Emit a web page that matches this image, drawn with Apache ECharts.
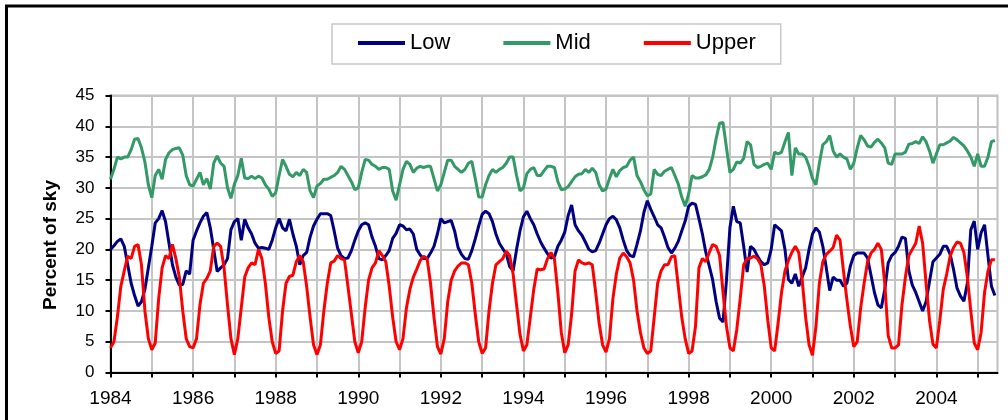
<!DOCTYPE html>
<html><head><meta charset="utf-8">
<script src="https://cdn.jsdelivr.net/npm/echarts@6/dist/echarts.min.js"></script>
<style>html,body{margin:0;padding:0;background:#fff}#c{width:1008px;height:420px}</style>
</head><body><div id="c"></div>
<script>
// Monthly values starting January 1984
const startYear = 1984;
const seriesNames = ['Low', 'Mid', 'Upper'];
const xTickLabels = [1984, 1986, 1988, 1990, 1992, 1994, 1996, 1998, 2000, 2002, 2004];
const xTickYears = [1984,1985,1986,1987,1988,1989,1990,1991,1992,1993,1994,1995,1996,1997,1998,1999,2000,2001,2002,2003,2004,2005];

const low = [
 20, 20.6, 21.3, 21.7, 20.5, 17.5, 14.5, 12.5, 10.8, 11.5, 13.5, 17,
 20.5, 24.3, 25, 26.3, 24.5, 21, 17.5, 15.5, 14.2, 14.3, 16.5, 16,
 21.5, 23, 24.3, 25.4, 26, 23.5, 20, 16.4, 17, 17.5, 18.5, 23.2,
 24.5, 25, 21.5, 24.9, 23.5, 22.5, 21, 20.2, 20.3, 20.2, 20, 21.5,
 23.5, 25, 23.5, 23, 24.9, 22.5, 20.5, 17.5, 19, 19.5, 22, 23.8,
 24.9, 25.8, 25.8, 25.8, 25.5, 23, 20.2, 19, 18.5, 18.6, 19.8, 21.5,
 23, 24, 24.3, 24, 22, 20.5, 18.5, 18.3, 19, 19.8, 21.8, 22.6,
 24, 23.8, 23.2, 23.3, 22.5, 20, 19.1, 18.5, 18.5, 19.4, 20.5, 22.5,
 25, 24.3, 24.5, 24.7, 23, 20.3, 19.2, 18.5, 18.4, 19.8, 21.7, 23.8,
 25.7, 26.2, 25.8, 24.5, 22.5, 21, 20.1, 19.3, 17.2, 16.5, 20, 23,
 25.3, 26.2, 25, 24, 22.5, 21.2, 20.2, 19.3, 18.6, 18.8, 20.5, 21.5,
 22.8, 25.5, 27.2, 24, 23, 22.3, 21.2, 20, 19.6, 19.8, 21, 22.5,
 24, 25, 25.4, 24.8, 23.5, 21.5, 19.8, 19, 18.8, 20.8, 23, 26,
 27.9, 26.5, 25.3, 24, 23.5, 22, 20.3, 19.4, 20.2, 21.3, 23, 24.6,
 27, 27.5, 27.3, 25, 22.5, 19.5, 17.3, 15, 11.5, 8.8, 8.2, 15,
 23.5, 27, 24.5, 24.3, 20.5, 16.3, 20.5, 20, 18.9, 18, 17.5, 17.8,
 20, 24, 23.5, 23, 20, 15.1, 14.5, 16, 14, 15.5, 17, 20,
 22.5, 23.5, 22.8, 20.5, 17, 13.3, 15.5, 15, 15, 14, 14.5, 17.3,
 19, 19.4, 19.4, 19.4, 18.6, 15.8, 13, 11, 10.5, 13.5, 17.8, 19,
 19.5, 20.5, 22, 21.8, 16.5, 14.2, 13, 11.5, 10, 11.5, 14.8, 18,
 18.6, 19.2, 20.5, 20.5, 19.2, 16.7, 13.7, 12.4, 11.6, 14.5, 23.2, 24.6,
 20, 22.7, 24, 18.9, 14, 12.5
];

const mid = [
 31.4, 33, 35, 34.7, 35, 35, 36.2, 37.9, 38, 36.5, 34.2, 30.5,
 28.4, 32, 33, 31.4, 34.6, 35.7, 36.2, 36.4, 36.5, 35.3, 32, 30.5,
 30.3, 31.4, 32.5, 30.5, 31.5, 29.8, 34, 35.2, 34, 33.5, 30, 28.3,
 30.6, 32, 34.8, 31.6, 31.5, 31.9, 31.5, 31.9, 31.6, 30.5, 29.8, 28.6,
 29.2, 32, 34.6, 33.5, 32.2, 31.8, 32.5, 32, 33, 32.5, 29.5, 28.4,
 30.3, 30.7, 31.4, 31.4, 31.7, 32, 32.5, 33.5, 33, 32, 31, 29.7,
 30, 32.5, 34.6, 34.5, 33.8, 33.5, 33, 33.3, 33.3, 33, 29.5, 28,
 30.5, 33, 34.3, 33.8, 32.5, 33.2, 33.5, 33.3, 33.5, 33.5, 31.5, 29.5,
 30.5, 32.5, 34.5, 34.5, 33.5, 33, 32.5, 33, 34, 34.3, 31.5, 28.5,
 28.5, 30.5, 32, 33, 32.5, 33, 33.3, 34, 35, 35, 32, 29.5,
 30, 32.3, 33, 33.3, 32, 32, 32.8, 33.5, 33.5, 33.3, 31, 29.7,
 29.8, 30.2, 31, 31.8, 32.2, 32.3, 33, 32.5, 33.2, 32.5, 30.5, 29.5,
 29.8, 31.5, 33, 31.8, 32.8, 33.3, 33.5, 34.5, 35, 32, 31, 29.7,
 28.7, 29, 33, 32.2, 32, 32.7, 33, 33.3, 32, 30.6, 28.5, 27,
 29, 32, 31.6, 31.6, 31.8, 32.1, 33, 35, 38, 40.5, 40.6, 36.5,
 32.5, 33, 34.2, 34, 34.8, 37.5, 37, 33.8, 33.3, 33.5, 33.8, 34,
 33, 35.8, 35.5, 35.8, 37.5, 39, 32, 36.5, 35.5, 35.5, 35, 33.5,
 31.5, 30.5, 34, 37, 37.5, 38.5, 36, 35, 35.5, 35, 34.7, 33,
 34, 36.5, 38.5, 37.8, 36.8, 36.6, 37.4, 37.9, 37.3, 36.5, 34, 33.8,
 35.5, 35.5, 35.5, 35.8, 37.1, 37.2, 37.5, 37.2, 38.3, 37.5, 36, 34,
 35.5, 37, 37, 37.3, 37.6, 38.2, 37.8, 37.3, 36.8, 36, 35, 33.5,
 35.5, 33.5, 33.5, 35, 37.5, 37.7
];

const upper = [
 4, 5, 9, 14, 16.5, 18.9, 18.5, 20.5, 20.8, 17.5, 10, 5.5,
 3.7, 4.8, 12, 17, 19, 18.5, 20.8, 18.5, 15.5, 10, 5.5, 4.2,
 4, 5.5, 11, 14.5, 15.3, 16.5, 20.5, 21, 20.5, 17, 11, 5.5,
 2.9, 5.5, 10.5, 15.5, 17, 17.8, 17.5, 20, 18.5, 14.5, 9, 5,
 3.1, 3.5, 10, 14.5, 15.6, 15.8, 18, 19, 18, 14, 9, 4.5,
 2.9, 4.5, 10, 14.5, 17.8, 18.1, 19, 18.5, 18.3, 14, 9.5, 5,
 3.2, 5, 10.5, 15, 17, 17.8, 19.8, 19, 18, 14, 9, 5,
 3.7, 5.5, 10.5, 13.5, 15.5, 16.8, 18.2, 18.9, 18.5, 14.5, 9, 4.2,
 3, 5.5, 11.5, 15, 16.5, 17.3, 17.8, 17.8, 17.5, 14.5, 9.5, 5,
 3.1, 4, 10, 14.5, 17.5, 18, 18.5, 19.7, 19, 16, 11, 6.2,
 3.5, 4.5, 9, 13.5, 16.8, 16.7, 16.8, 18.5, 19.5, 18.5, 13, 6.5,
 3.2, 4.5, 9.5, 16.5, 18.3, 17.8, 17.6, 17.8, 17.5, 13, 8, 4.5,
 3.3, 5.5, 12, 16, 18.6, 19.4, 18.8, 17.8, 15, 10, 6.5, 4,
 3.1, 3.5, 9, 14.5, 16.5, 17.5, 17.5, 18.8, 19, 14, 9, 5.5,
 3.1, 3.5, 7.5, 17, 18.5, 18, 19.5, 20.8, 20.5, 19, 13, 7.5,
 4, 3.5, 7, 12, 17.5, 18.5, 18.6, 18.9, 18.5, 17.5, 14, 8.5,
 4, 3.5, 8, 13, 16.5, 18.2, 19.5, 20.5, 19.5, 15, 9, 4.5,
 2.8, 7.5, 14.5, 18, 19.2, 19.7, 20.3, 22.3, 21.5, 16.5, 11.8, 7.5,
 4.2, 5, 10.5, 14.5, 18, 19.4, 20, 21, 20, 14.5, 6, 4,
 4, 4.5, 11, 15.5, 19, 20, 21, 23.8, 21, 14.5, 8.5, 4.6,
 4, 8.5, 13.5, 16, 18.9, 20.3, 21.2, 21, 19.5, 15.5, 10, 4.8,
 3.7, 6.5, 13, 16.5, 18.3, 18.3
];

const FONT = 'Liberation Sans, Arial, sans-serif';
const toPts = arr => arr.map((v, i) => [startYear + i / 12, v]);

const chart = echarts.init(document.getElementById('c'), null, { renderer: 'canvas' });
chart.setOption({
  animation: false,
  backgroundColor: '#ffffff',
  textStyle: { fontFamily: FONT },
  legend: {
    data: seriesNames,
    left: 332, top: 24,
    padding: [8, 25, 10, 26],
    itemGap: 53,
    itemWidth: 47,
    itemHeight: 4,
    icon: 'rect',
    borderColor: '#c8c8c8',
    borderWidth: 1.5,
    textStyle: { fontSize: 22, color: '#000', fontFamily: FONT }
  },
  grid: {
    left: 110.5, right: 10.5, top: 95.5, bottom: 47.5,
    show: true, borderColor: '#c0c0c0', borderWidth: 2, containLabel: false
  },
  xAxis: {
    type: 'value', min: 1984, max: 2005.48, interval: 1,
    axisLine: { show: true, onZero: false, lineStyle: { color: '#000', width: 2 } },
    axisTick: { show: true, length: 5, customValues: xTickYears, lineStyle: { color: '#000', width: 2 } },
    axisLabel: {
      customValues: xTickLabels,
      formatter: v => (xTickLabels.indexOf(Math.round(v)) >= 0 && Math.abs(v - Math.round(v)) < 1e-6) ? String(Math.round(v)) : '',
      fontSize: 19, color: '#000', margin: 17, fontFamily: FONT
    },
    splitLine: { show: true, lineStyle: { color: '#c4c4c4', width: 2 } }
  },
  yAxis: {
    type: 'value', min: 0, max: 45, interval: 5,
    axisLine: { show: true, lineStyle: { color: '#000', width: 2 } },
    axisTick: { show: true, length: 5, lineStyle: { color: '#000', width: 2 } },
    axisLabel: { fontSize: 17, color: '#000', margin: 16, fontFamily: FONT },
    splitLine: { show: true, lineStyle: { color: '#c4c4c4', width: 2 } }
  },
  graphic: [
    { type: 'rect', silent: true, shape: { x: 6.5, y: 6, width: 1012, height: 430 },
      style: { fill: 'none', stroke: '#000', lineWidth: 3 } },
    { type: 'text', x: 50.5, y: 245, rotation: Math.PI / 2, silent: true,
      style: { text: 'Percent of sky', x: 0, y: 0, textAlign: 'center', textVerticalAlign: 'middle',
        font: 'bold 19px Liberation Sans, Arial, sans-serif', fill: '#000' } }
  ],
  series: [
    { name: 'Low', type: 'line', data: toPts(low), showSymbol: false, symbol: 'none',
      color: '#000080', lineStyle: { color: '#000080', width: 3 } },
    { name: 'Mid', type: 'line', data: toPts(mid), showSymbol: false, symbol: 'none',
      color: '#339966', lineStyle: { color: '#339966', width: 3 } },
    { name: 'Upper', type: 'line', data: toPts(upper), showSymbol: false, symbol: 'none',
      color: '#ff0000', lineStyle: { color: '#ff0000', width: 3 } }
  ]
});
</script>
</body></html>
